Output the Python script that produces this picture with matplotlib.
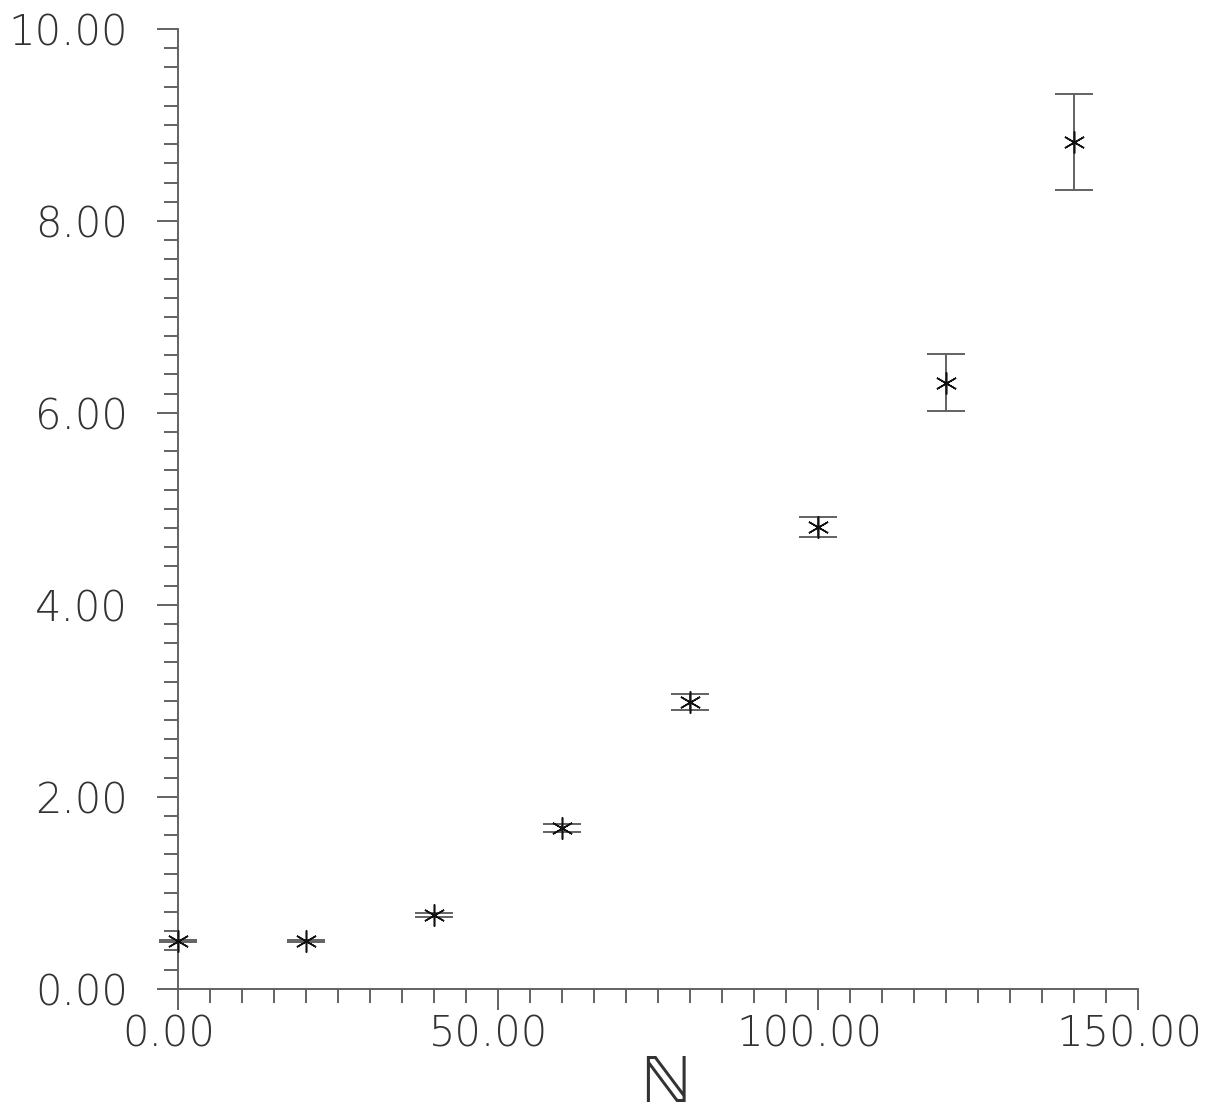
import matplotlib
matplotlib.use("Agg")
import matplotlib.pyplot as plt
import matplotlib.transforms as mtransforms
from matplotlib import font_manager

# data
n_values = [0, 20, 40, 60, 80, 100, 120, 140]
y_values = [0.50, 0.50, 0.77, 1.674, 2.987, 4.81, 6.315, 8.82]
y_errors = [0.01, 0.01, 0.02, 0.042, 0.08, 0.10, 0.30, 0.50]

x_ticks = [0, 50, 100, 150]
x_tick_labels = ["0.00", "50.00", "100.00", "150.00"]
y_ticks = [0, 2, 4, 6, 8, 10]
y_tick_labels = ["0.00", "2.00", "4.00", "6.00", "8.00", "10.00"]


def pick_light_font():
    # look for a thin weight of one of the installed families
    prefs = ["DejaVu Sans", "Roboto", "Lato", "Open Sans", "Inter", "Noto Sans"]
    best = None
    for fam in prefs:
        for f in font_manager.fontManager.ttflist:
            if f.name != fam or f.style != "normal":
                continue
            w = f.weight
            if isinstance(w, str):
                w = font_manager.weight_dict.get(w, 400)
            if w <= 300 and (best is None or w < best[1]):
                best = (f.fname, w)
        if best is not None:
            return font_manager.FontProperties(fname=best[0])
    return font_manager.FontProperties(family="DejaVu Sans")


def main():
    W, H, dpi = 1209, 1119, 100
    fig = plt.figure(figsize=(W / dpi, H / dpi), dpi=dpi)

    left, right = 178 / W, 1138 / W
    bottom, top = (H - 988.7) / H, (H - 29) / H
    ax = fig.add_axes([left, bottom, right - left, top - bottom])

    line_col = "#606060"
    px = 72 / dpi
    lw = 1.6 * px * 1.2

    ax.errorbar(n_values, y_values, yerr=y_errors, fmt="none",
                ecolor=line_col, elinewidth=lw, capsize=19 * px,
                capthick=lw, clip_on=False, zorder=3)
    ax.plot(n_values, y_values, linestyle="none", marker=(6, 2, 0),
            markersize=22 * px, markeredgewidth=1.3 * px * 1.2,
            color="#111111", clip_on=False, zorder=4)

    ax.set_xlim(0, 150)
    ax.set_ylim(0, 10)
    for side in ["top", "right"]:
        ax.spines[side].set_visible(False)
    for side in ["left", "bottom"]:
        ax.spines[side].set_color(line_col)
        ax.spines[side].set_linewidth(lw)

    ax.set_xticks(x_ticks)
    ax.set_xticks(range(0, 151, 5), minor=True)
    ax.set_yticks(y_ticks)
    ax.set_yticks([i * 0.2 for i in range(51)], minor=True)

    fp = pick_light_font()
    fp.set_size(30)
    ax.set_xticklabels(x_tick_labels, fontproperties=fp, color="#333333")
    ax.set_yticklabels(y_tick_labels, fontproperties=fp, color="#333333")

    ax.tick_params(which="major", length=21 * px, width=lw, color=line_col)
    ax.tick_params(which="minor", length=14 * px, width=lw, color=line_col)
    ax.tick_params(axis="x", which="major", pad=3)
    ax.tick_params(axis="y", which="major", pad=21)

    # x labels sit slightly left of their ticks in the reference
    shift = mtransforms.ScaledTranslation(-9 / dpi, 0, fig.dpi_scale_trans)
    for lab in ax.get_xticklabels():
        lab.set_transform(lab.get_transform() + shift)

    fig.text(665 / W, 1 - 1117 / H, "\u2115", family="STIXGeneral",
             fontsize=50, color="#333333", ha="center", va="bottom")

    fig.savefig("out.png", dpi=dpi, facecolor="white")
    plt.close(fig)


if __name__ == "__main__":
    main()
